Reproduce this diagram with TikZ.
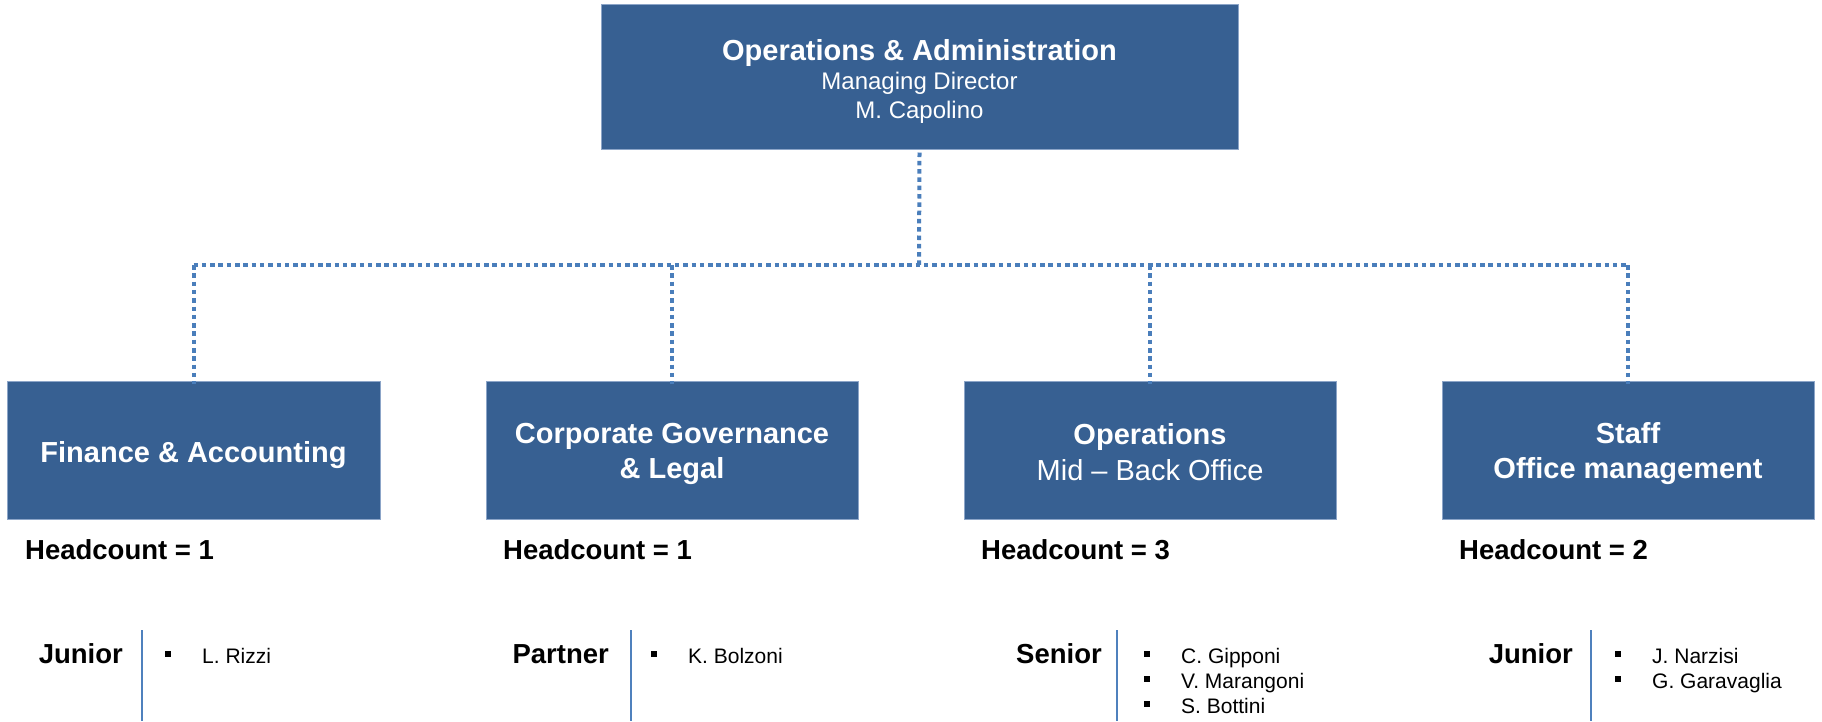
\documentclass[tikz,border=0pt]{standalone}
\usepackage{fontspec}
\setmainfont{Liberation Sans}
\definecolor{boxfill}{RGB}{55,96,146}
\definecolor{boxedge}{RGB}{140,165,200}
\definecolor{dotblue}{RGB}{74,126,187}
\definecolor{sepblue}{RGB}{79,129,189}
\tikzset{
  unitbox/.style={draw=boxedge, line width=1pt, fill=boxfill, inner sep=0pt},
  link/.style={dotblue, line width=4pt, dash pattern=on 4.5pt off 3.8pt},
  ttl/.style={text=white, font=\fontsize{29}{35}\selectfont\bfseries, inner sep=0pt, anchor=base},
  subt/.style={text=white, font=\fontsize{24}{29}\selectfont, inner sep=0pt, anchor=base},
  sub29/.style={text=white, font=\fontsize{29}{35}\selectfont, inner sep=0pt, anchor=base},
  hc/.style={font=\fontsize{27.5}{33}\selectfont\bfseries, inner sep=0pt, anchor=base west},
  rank/.style={font=\fontsize{27.5}{33}\selectfont\bfseries, inner sep=0pt, anchor=base east},
  person/.style={font=\fontsize{21}{25}\selectfont, inner sep=0pt, anchor=base west},
  bul/.style={fill=black, minimum size=5.5pt, inner sep=0pt},
  sep/.style={sepblue, line width=1.6pt}
}
\begin{document}
\begin{tikzpicture}[x=1pt,y=-1pt]
\useasboundingbox (0,0) rectangle (1822,721);
% boxes
\node[unitbox, minimum width=637pt, minimum height=145pt] (top) at (919.5,76.5) {};
\node[unitbox, minimum width=373pt, minimum height=138pt] (b1) at (193.5,450) {};
\node[unitbox, minimum width=372pt, minimum height=138pt] (b2) at (672,450) {};
\node[unitbox, minimum width=372pt, minimum height=138pt] (b3) at (1150,450) {};
\node[unitbox, minimum width=372pt, minimum height=138pt] (b4) at (1628,450) {};
% connectors
\coordinate (j) at (919,265);
\coordinate (j1) at (193.5,265);
\coordinate (j4) at (1628,265);
\draw[link] (top.south) ++(0,3) -- (j);
\draw[link] (j1) -- (j4);
\draw[link] (j1) -- ([yshift=-3pt]b1.north);
\draw[link] (b2.north |- j) -- ([yshift=-3pt]b2.north);
\draw[link] (b3.north |- j) -- ([yshift=-3pt]b3.north);
\draw[link] (j4) -- ([yshift=-3pt]b4.north);
% top box text
\node[ttl] (t0) at (919.5,60) {Operations \& Administration};
\node[subt] (t0b) at (919.5,89) {Managing Director};
\node[subt] (t0c) at (919.5,118) {M. Capolino};
% box texts
\node[ttl] (t1) at (193.5,462) {Finance \& Accounting};
\node[ttl] (t2a) at (672,443) {Corporate Governance};
\node[ttl] (t2b) at (672,478) {\& Legal};
\node[ttl] (t3a) at (1150,444) {Operations};
\node[sub29] (t3b) at (1150,480) {Mid – Back Office};
\node[ttl] (t4a) at (1628,443) {Staff};
\node[ttl] (t4b) at (1628,478) {Office management};
% headcounts
\node[hc] (h1) at (25,559) {Headcount = 1};
\node[hc] (h2) at (503,559) {Headcount = 1};
\node[hc] (h3) at (981,559) {Headcount = 3};
\node[hc] (h4) at (1459,559) {Headcount = 2};
% ranks
\node[rank] (r1) at (123,663) {Junior};
\node[rank] (r2) at (609,663) {Partner};
\node[rank] (r3) at (1102,663) {Senior};
\node[rank] (r4) at (1573,663) {Junior};
% separators
\coordinate (s1a) at (142,630); \coordinate (s1b) at (142,721);
\coordinate (s2a) at (631,630); \coordinate (s2b) at (631,721);
\coordinate (s3a) at (1117,630); \coordinate (s3b) at (1117,721);
\coordinate (s4a) at (1591,630); \coordinate (s4b) at (1591,721);
\draw[sep] (s1a) -- (s1b);
\draw[sep] (s2a) -- (s2b);
\draw[sep] (s3a) -- (s3b);
\draw[sep] (s4a) -- (s4b);
% people
\node[bul] (q1) at (168,654) {};
\node[person] (p1) at (202,663) {L. Rizzi};
\node[bul] (q2) at (654,654) {};
\node[person] (p2) at (688,663) {K. Bolzoni};
\node[bul] (q3a) at (1147,654) {};
\node[person] (p3a) at (1181,663) {C. Gipponi};
\node[bul] (q3b) at (1147,679) {};
\node[person] (p3b) at (1181,688) {V. Marangoni};
\node[bul] (q3c) at (1147,704) {};
\node[person] (p3c) at (1181,713) {S. Bottini};
\node[bul] (q4a) at (1618,654) {};
\node[person] (p4a) at (1652,663) {J. Narzisi};
\node[bul] (q4b) at (1618,679) {};
\node[person] (p4b) at (1652,688) {G. Garavaglia};
\end{tikzpicture}
\end{document}
